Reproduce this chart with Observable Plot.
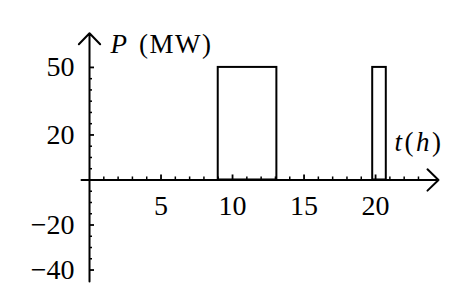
<!DOCTYPE html>
<html>
<head>
<meta charset="utf-8">
<script src="https://cdn.jsdelivr.net/npm/d3@7"></script>
<script src="https://cdn.jsdelivr.net/npm/@observablehq/plot@0.6"></script>
<style>
  html, body { margin: 0; padding: 0; background: #fff; }
  #chart svg { display: block; }
</style>
</head>
<body>
<div id="chart"></div>
<script>
// Pulses (t in hours, P in MW)
const pulseStart = [9, 19.8];
const pulseEnd = [13.1, 20.75];
const pulsePower = [50, 50];

// Axis extents (data units)
const xAxisRange = [-0.56, 24.4];
const yAxisRange = [-45.1, 65.2];

// Ticks
const xMajorTicks = [5, 10, 15, 20];
const xTickLabels = ["5", "10", "15", "20"];
const xMinorTicks = [1, 2, 3, 4, 6, 7, 8, 9, 11, 12, 13, 14, 16, 17, 18, 19, 21, 22, 23];
const yMajorTicks = [50, 20, -20, -40];
const yTickLabels = ["50", "20", "−20", "−40"];
const yMinorTicks = [45, 40, 35, 30, 25, 15, 10, 5, -5, -10, -15, -25, -30, -35];

const pulses = pulseStart.map((s, i) => ({start: s, end: pulseEnd[i], p: pulsePower[i]}));
const xTicks = xMajorTicks.map((v, i) => ({v, label: xTickLabels[i]}));
const yTicks = yMajorTicks.map((v, i) => ({v, label: yTickLabels[i]}));

const font = "Liberation Serif";

const chart = Plot.plot({
  width: 469,
  height: 307,
  marginLeft: 81,
  marginRight: 31,
  marginTop: 32.7,
  marginBottom: 26,
  x: {domain: xAxisRange, axis: null},
  y: {domain: yAxisRange, axis: null},
  style: {background: "white", fontFamily: font},
  marks: [
    // pulses
    Plot.rect(pulses, {x1: "start", x2: "end", y1: 0, y2: "p", fill: "none", stroke: "black", strokeWidth: 2}),
    // axes with arrows
    Plot.arrow([0], {x1: xAxisRange[0], x2: xAxisRange[1], y1: 0, y2: 0, stroke: "black", strokeWidth: 2, headAngle: 88, headLength: 11.5}),
    Plot.arrow([0], {x1: 0, x2: 0, y1: yAxisRange[0], y2: yAxisRange[1], stroke: "black", strokeWidth: 2, headAngle: 88, headLength: 11.5}),
    // x ticks (pointing up)
    Plot.ruleX(xMinorTicks, {x: d => d, y1: 0, y2: 0, insetTop: -3, stroke: "black", strokeWidth: 1.5}),
    Plot.ruleX(xMajorTicks, {x: d => d, y1: 0, y2: 0, insetTop: -5, stroke: "black", strokeWidth: 1.8}),
    // y ticks (pointing right)
    Plot.ruleY(yMinorTicks, {y: d => d, x1: 0, x2: 0, insetRight: -3, stroke: "black", strokeWidth: 1.5}),
    Plot.ruleY(yMajorTicks, {y: d => d, x1: 0, x2: 0, insetRight: -5, stroke: "black", strokeWidth: 1.8}),
    // tick labels
    Plot.text(xTicks, {x: "v", y: 0, text: "label", dy: 35.5, lineAnchor: "bottom", textAnchor: "middle", fontSize: 28, fill: "black", fontFamily: font}),
    Plot.text(yTicks, {x: 0, y: "v", text: "label", dx: -15, lineAnchor: "middle", textAnchor: "end", fontSize: 28, fill: "black", fontFamily: font}),
    // axis labels
    Plot.text(["P (MW)"], {x: 0, y: yAxisRange[1], text: d => d, dx: 21, dy: 19.3, lineAnchor: "bottom", textAnchor: "start", fontSize: 27, fill: "black", fontFamily: font, className: "ylab"}),
    Plot.text(["t(h)"], {x: xAxisRange[1], y: 0, text: d => d, dx: -44, dy: -28.5, lineAnchor: "bottom", textAnchor: "start", fontSize: 27, fill: "black", fontFamily: font, className: "xlab"})
  ]
});

document.getElementById("chart").appendChild(chart);

// Mixed italic/upright styling for the axis labels
const ylab = d3.select(chart).select(".ylab text");
if (!ylab.empty()) {
  ylab.text(null);
  ylab.append("tspan").attr("font-style", "italic").text("P");
  ylab.append("tspan").attr("dx", 12).attr("letter-spacing", 1.5).text("(MW)");
}
const xlab = d3.select(chart).select(".xlab text");
if (!xlab.empty()) {
  xlab.text(null);
  xlab.attr("letter-spacing", 2.5);
  xlab.append("tspan").attr("font-style", "italic").text("t");
  xlab.append("tspan").text("(");
  xlab.append("tspan").attr("font-style", "italic").text("h");
  xlab.append("tspan").text(")");
}
</script>
</body>
</html>
